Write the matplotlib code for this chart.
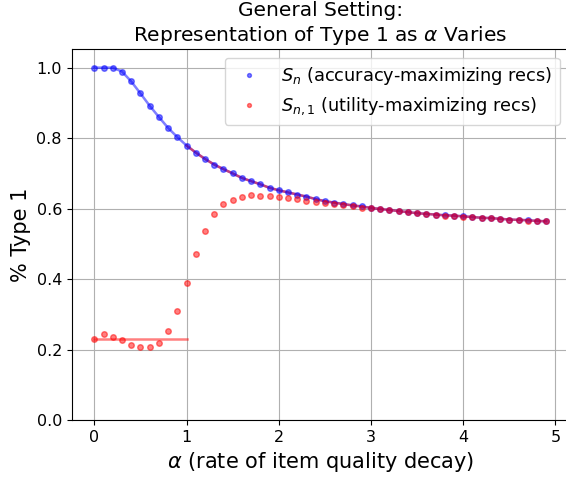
import numpy as np
import matplotlib
matplotlib.use('Agg')
import matplotlib.pyplot as plt

# valores de alpha (0.0 ... 4.9)
alphas = np.round(np.arange(0, 5, 0.1), 1)

# S_n (recomendacoes que maximizam acuracia)
s_n = [1.000, 1.000, 1.000, 0.989, 0.961, 0.927, 0.892, 0.860, 0.829, 0.803,
       0.779, 0.759, 0.741, 0.725, 0.712, 0.700, 0.687, 0.678, 0.669, 0.659,
       0.652, 0.646, 0.640, 0.634, 0.627, 0.621, 0.617, 0.613, 0.609, 0.606,
       0.602, 0.599, 0.596, 0.593, 0.590, 0.587, 0.585, 0.583, 0.581, 0.580,
       0.578, 0.576, 0.574, 0.573, 0.571, 0.569, 0.568, 0.567, 0.565, 0.564]

# S_{n,1} (recomendacoes que maximizam utilidade)
s_n1 = [0.229, 0.243, 0.236, 0.226, 0.213, 0.206, 0.206, 0.218, 0.252, 0.310,
        0.389, 0.471, 0.537, 0.584, 0.612, 0.625, 0.634, 0.638, 0.637, 0.635,
        0.633, 0.631, 0.627, 0.623, 0.620, 0.617, 0.613, 0.610, 0.606, 0.603,
        0.601, 0.598, 0.595, 0.592, 0.589, 0.587, 0.585, 0.582, 0.580, 0.579,
        0.577, 0.575, 0.574, 0.572, 0.570, 0.568, 0.567, 0.566, 0.565, 0.564]

# curva teorica para alpha < 1 (constante)
teorico_baixo = 0.229

fig = plt.figure(figsize=(5.66, 4.78), dpi=100)
ax = fig.add_axes([0.1267, 0.1213, 0.8783, 0.7762])

ax.plot(alphas, s_n, 'b-', alpha=0.5, linewidth=1.8)
ax.plot([0, 1], [teorico_baixo, teorico_baixo], 'r-', alpha=0.5, linewidth=1.8)
mask = alphas >= 1
ax.plot(alphas[mask], np.array(s_n)[mask], 'r-', alpha=0.5, linewidth=1.8)

ax.plot(alphas, s_n, 'bo', alpha=0.5, markersize=4,
        label=r'$S_n$ (accuracy-maximizing recs)')
ax.plot(alphas, s_n1, 'ro', alpha=0.5, markersize=4,
        label=r'$S_{n,1}$ (utility-maximizing recs)')

ax.set_ylim(0, 1.053)
ax.set_xticks([0, 1, 2, 3, 4, 5])
ax.grid(True)
ax.tick_params(labelsize=11.5)

ax.set_title('General Setting:\nRepresentation of Type 1 as $\\alpha$ Varies', fontsize=14.5)
ax.set_xlabel(r'$\alpha$ (rate of item quality decay)', fontsize=15)
ax.set_ylabel('% Type 1', fontsize=15)
ax.legend(loc='upper right', fontsize=12.8, markerscale=0.7)

fig.savefig('out.png', dpi=100)
